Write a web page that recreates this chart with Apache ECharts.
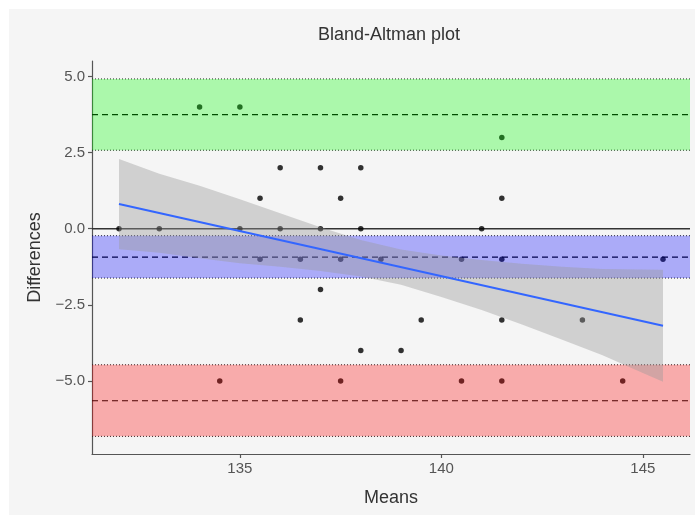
<!DOCTYPE html>
<html>
<head>
<meta charset="utf-8">
<script src="https://cdn.jsdelivr.net/npm/echarts@6/dist/echarts.min.js"></script>
<style>
html,body{margin:0;padding:0;background:#ffffff;}
#bg{position:absolute;left:9px;top:9px;width:686px;height:506px;background:#f5f5f5;}
#chart{position:absolute;left:0;top:0;width:695px;height:517px;}
</style>
</head>
<body>
<div id="bg"></div>
<div id="chart"></div>
<script>
// ---- data ----
const means = [134,135,141.5,136,137,138,135.5,137.5,141.5,
  132,133,135,136,137,138,141,
  135.5,136.5,137.5,138.5,140.5,141.5,145.5,
  137,
  136.5,139.5,141.5,143.5,
  138,139,
  134.5,137.5,140.5,141.5,144.5];
const differences = [4,4,3,2,2,2,1,1,1,
  0,0,0,0,0,0,0,
  -1,-1,-1,-1,-1,-1,-1,
  -2,
  -3,-3,-3,-3,
  -4,-4,
  -5,-5,-5,-5,-5];

// limits of agreement (upper LoA, bias, lower LoA) and their confidence intervals
const loaValues = [3.75, -0.93, -5.65];
const loaCiLow  = [2.58, -1.62, -6.82];
const loaCiHigh = [4.92, -0.23, -4.47];

// regression fit and its confidence ribbon
const fitX = [132, 145.5];
const fitY = [0.81, -3.19];
const ciX     = [132, 133, 134, 135, 136, 137, 138, 139, 140, 141, 142, 143, 144, 145, 145.5];
const ciUpper = [2.29, 1.81, 1.41, 0.97, 0.51, 0.05, -0.37, -0.68, -0.88, -1.03, -1.15, -1.25, -1.32, -1.34, -1.35];
const ciLower = [-0.67, -0.79, -0.97, -1.13, -1.25, -1.39, -1.57, -1.84, -2.24, -2.67, -3.15, -3.65, -4.16, -4.74, -5.03];

const xTicks = [135, 140, 145];
const yTicks = [-5, -2.5, 0, 2.5, 5];
const zeroLine = [0];

// ---- styling ----
const bandColors = ['rgba(0,255,0,0.3)', 'rgba(0,0,255,0.3)', 'rgba(255,0,0,0.3)'];
const FONT = 'Arial, "Liberation Sans", sans-serif';

const chart = echarts.init(document.getElementById('chart'), null, {renderer: 'canvas'});

function hLine(params, api, yv, style) {
  const cs = params.coordSys;
  const y = api.coord([0, yv])[1];
  return {type: 'line', shape: {x1: cs.x, y1: y, x2: cs.x + cs.width, y2: y}, style: style, silent: true};
}

const option = {
  animation: false,
  backgroundColor: 'transparent',
  title: {
    text: 'Bland-Altman plot',
    left: 318, top: 26, padding: 0,
    textStyle: {fontFamily: FONT, fontSize: 18, fontWeight: 'normal', color: '#333333'}
  },
  grid: {left: 92, right: 5, top: 61, bottom: 63},
  xAxis: {
    type: 'value', min: 131.33, max: 146.17,
    name: 'Means', nameLocation: 'middle', nameGap: 35,
    nameTextStyle: {fontFamily: FONT, fontSize: 18, color: '#333333'},
    splitLine: {show: false},
    axisLine: {show: true, onZero: false, lineStyle: {color: '#555555', width: 1.2}},
    axisTick: {show: true, length: 4, customValues: xTicks, lineStyle: {color: '#555555', width: 1.2}},
    axisLabel: {customValues: xTicks, margin: 7, fontFamily: FONT, fontSize: 15, color: '#555555'}
  },
  yAxis: {
    type: 'value', min: -7.40, max: 5.51,
    name: 'Differences', nameLocation: 'middle', nameGap: 47, nameRotate: 90,
    nameTextStyle: {fontFamily: FONT, fontSize: 18, color: '#333333'},
    splitLine: {show: false},
    axisLine: {show: true, onZero: false, lineStyle: {color: '#555555', width: 1.2}},
    axisTick: {show: true, length: 4, customValues: yTicks, lineStyle: {color: '#555555', width: 1.2}},
    axisLabel: {customValues: yTicks, margin: 7, fontFamily: FONT, fontSize: 15, color: '#555555',
      formatter: v => v.toFixed(1).replace('-', '\u2212')}
  },
  series: [
    { // reference lines: zero line, LoA dashed, CI dotted
      type: 'custom', z: 1, silent: true,
      data: [[0]],
      renderItem: function (params, api) {
        const children = [];
        zeroLine.forEach(v => children.push(hLine(params, api, v, {stroke: '#333333', lineWidth: 1.5})));
        loaValues.forEach(v => children.push(hLine(params, api, v, {stroke: '#000000', lineWidth: 1.2, lineDash: [6, 4]})));
        loaCiLow.forEach(v => children.push(hLine(params, api, v, {stroke: '#222222', lineWidth: 1, lineDash: [1, 2]})));
        loaCiHigh.forEach(v => children.push(hLine(params, api, v, {stroke: '#222222', lineWidth: 1, lineDash: [1, 2]})));
        return {type: 'group', children: children};
      }
    },
    {
      type: 'scatter', z: 2,
      data: means.map((m, i) => [m, differences[i]]),
      symbolSize: 5.5,
      itemStyle: {color: '#000000'}
    },
    { // shaded confidence bands for the limits of agreement
      type: 'custom', z: 3, silent: true,
      data: loaValues.map((v, i) => [i]),
      renderItem: function (params, api) {
        const i = params.dataIndex;
        const cs = params.coordSys;
        const yTop = api.coord([0, loaCiHigh[i]])[1];
        const yBot = api.coord([0, loaCiLow[i]])[1];
        return {type: 'rect', shape: {x: cs.x, y: yTop, width: cs.width, height: yBot - yTop},
                style: {fill: bandColors[i]}, silent: true};
      }
    },
    { // regression confidence ribbon
      type: 'custom', z: 4, silent: true,
      data: [[0]],
      renderItem: function (params, api) {
        const pts = [];
        for (let i = 0; i < ciX.length; i++) pts.push(api.coord([ciX[i], ciUpper[i]]));
        for (let i = ciX.length - 1; i >= 0; i--) pts.push(api.coord([ciX[i], ciLower[i]]));
        return {type: 'polygon', shape: {points: pts}, style: {fill: 'rgba(153,153,153,0.4)'}, silent: true};
      }
    },
    {
      type: 'line', z: 5, silent: true,
      data: fitX.map((x, i) => [x, fitY[i]]),
      showSymbol: false, symbol: 'none',
      lineStyle: {color: '#3366FF', width: 2}
    }
  ]
};
chart.setOption(option);
</script>
</body>
</html>
